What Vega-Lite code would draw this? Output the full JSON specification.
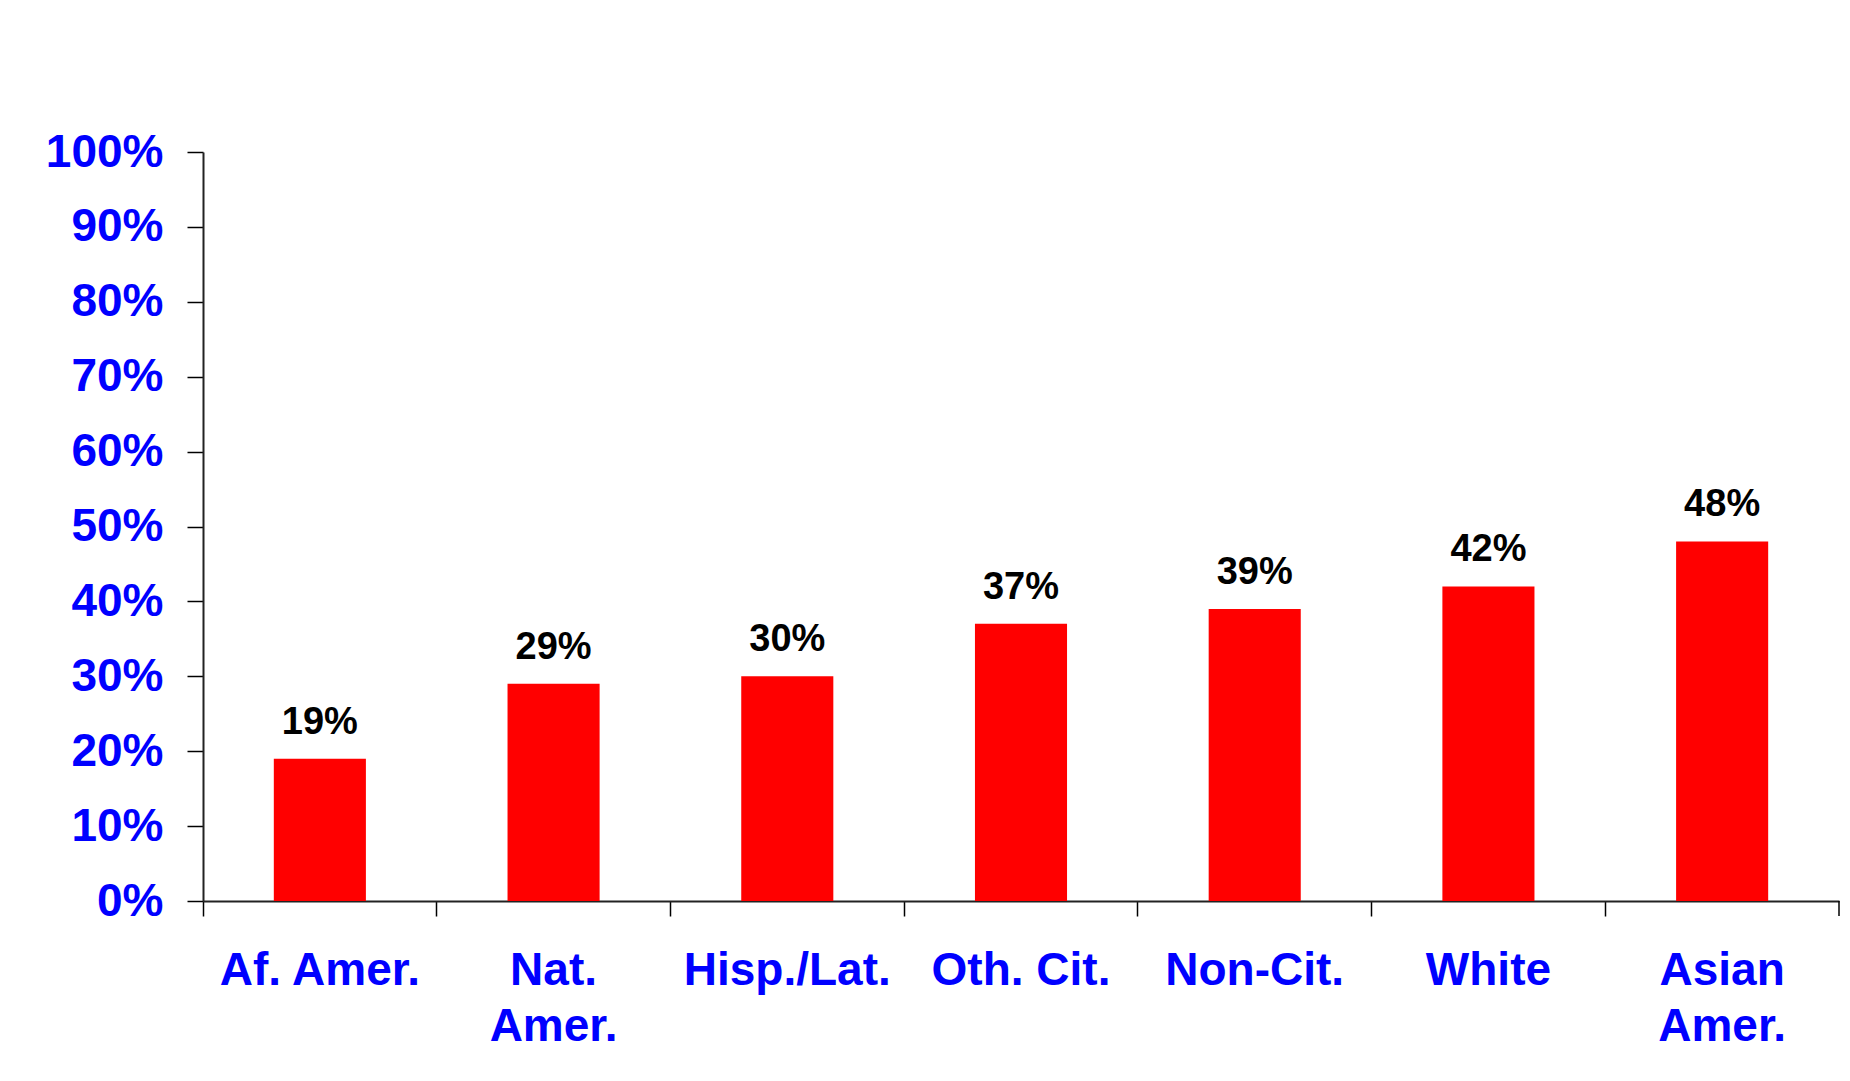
{
  "$schema": "https://vega.github.io/schema/vega-lite/v6.json",
  "autosize": {"type": "none"},
  "width": 1636,
  "height": 749,
  "padding": {"left": 203, "top": 152, "right": 11, "bottom": 180},
  "background": "white",
  "config": {
    "view": {"stroke": null},
    "font": "Liberation Sans"
  },
  "data": {
    "values": [
      {"group": "Af. Amer.", "share": 0.19},
      {"group": "Nat. Amer.", "share": 0.29},
      {"group": "Hisp./Lat.", "share": 0.30},
      {"group": "Oth. Cit.", "share": 0.37},
      {"group": "Non-Cit.", "share": 0.39},
      {"group": "White", "share": 0.42},
      {"group": "Asian Amer.", "share": 0.48}
    ]
  },
  "encoding": {
    "x": {
      "field": "group",
      "type": "nominal",
      "sort": null,
      "scale": {"paddingInner": 0, "paddingOuter": 0},
      "axis": {
        "title": null,
        "bandPosition": 0,
        "labelAngle": 0,
        "labelFont": "Liberation Sans",
        "labelFontSize": 46,
        "labelFontWeight": "bold",
        "labelColor": "#0000FF",
        "labelPadding": 32,
        "labelLineHeight": 56,
        "labelLimit": 0,
        "labelOverlap": false,
        "labelExpr": "datum.value == 'Nat. Amer.' ? ['Nat.', 'Amer.'] : datum.value == 'Asian Amer.' ? ['Asian', 'Amer.'] : datum.value",
        "tickSize": 15,
        "tickWidth": 1.5,
        "tickColor": "#000000",
        "domainColor": "#222222",
        "domainWidth": 2,
        "grid": false
      }
    }
  },
  "layer": [
    {
      "mark": {"type": "bar", "color": "#FF0000", "width": {"band": 0.394}},
      "encoding": {
        "y": {
          "field": "share",
          "type": "quantitative",
          "scale": {"domain": [0, 1], "nice": false},
          "axis": {
            "title": null,
            "values": [0, 0.1, 0.2, 0.3, 0.4, 0.5, 0.6, 0.7, 0.8, 0.9, 1.0],
            "format": ".0%",
            "labelFont": "Liberation Sans",
            "labelFontSize": 46,
            "labelFontWeight": "bold",
            "labelColor": "#0000FF",
            "labelPadding": 24,
            "labelLimit": 0,
            "tickSize": 16,
            "tickWidth": 1.5,
            "tickColor": "#000000",
            "domainColor": "#222222",
            "domainWidth": 2,
            "grid": false
          }
        }
      }
    },
    {
      "mark": {"type": "text", "baseline": "alphabetic", "dy": -25, "font": "Liberation Sans", "fontSize": 38, "fontWeight": "bold", "color": "#000000"},
      "encoding": {
        "y": {"field": "share", "type": "quantitative"},
        "text": {"field": "share", "type": "quantitative", "format": ".0%"}
      }
    },
    {
      "transform": [{"filter": "datum.group == 'Asian Amer.'"}],
      "mark": {"type": "rule", "color": "#000000", "strokeWidth": 1.5, "y2Offset": 15},
      "encoding": {
        "x": {"field": "group", "type": "nominal", "bandPosition": 1},
        "y": {"datum": 0},
        "y2": {"datum": 0}
      }
    }
  ]
}
